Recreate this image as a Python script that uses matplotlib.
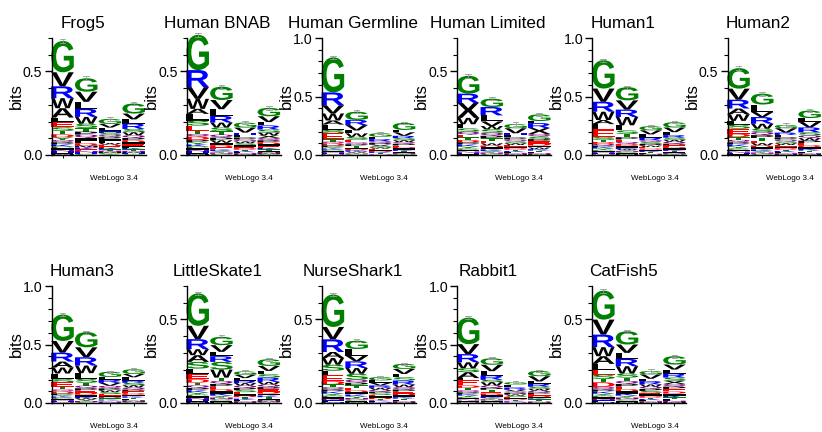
import matplotlib
matplotlib.use("Agg")
import matplotlib.pyplot as plt
from matplotlib.textpath import TextPath
from matplotlib.patches import PathPatch
from matplotlib.font_manager import FontProperties
import matplotlib.transforms as transforms

plt.rcParams['font.family'] = ['Liberation Sans', 'DejaVu Sans']

titles = ["Frog5", "Human BNAB", "Human Germline", "Human Limited", "Human1", "Human2",
          "Human3", "LittleSkate1", "NurseShark1", "Rabbit1", "CatFish5"]
ymax = [0.7, 0.7, 1.0, 0.7, 1.0, 0.7, 1.0, 0.7, 0.7, 1.0, 0.7]

# each column: letters from top of stack downwards, with their heights in bits
frog5 = [
    ("GVRWALESTDYQPKCINHFM", [.187, .084, .071, .060, .056, .028, .030, .022, .020, .018, .016, .014, .013, .012, .011, .010, .009, .008, .007, .006]),
    ("GVLRWSTPQIFDMKENHC", [.080, .061, .042, .048, .041, .025, .022, .018, .020, .016, .015, .014, .012, .011, .010, .009, .008, .007]),
    ("GVLHSQPIFWDEKTNMCY", [.030, .022, .018, .012, .014, .013, .012, .012, .011, .010, .010, .009, .009, .008, .008, .007, .006, .005]),
    ("GVLRSWQPDIEFKTNMHC", [.060, .035, .025, .032, .020, .018, .016, .014, .013, .012, .011, .010, .009, .008, .007, .007, .006, .005]),
]
human_bnab = [
    ("GRVWALSETQDPYKCINHFM", [.211, .102, .070, .060, .030, .040, .030, .030, .020, .016, .020, .014, .013, .012, .011, .010, .009, .008, .007, .006]),
    ("GVLRWSTQPWIDEKYNC", [.080, .055, .040, .040, .030, .022, .020, .018, .016, .015, .014, .013, .012, .010, .009, .008, .007]),
    ("GVHLPQWSIEDTKFNM", [.030, .030, .015, .014, .012, .012, .011, .010, .010, .009, .009, .008, .007, .006, .006, .005]),
    ("GVLRSWXQPDIEKTFNMC", [.050, .035, .020, .025, .018, .017, .015, .014, .013, .012, .011, .010, .009, .008, .007, .007, .006, .005]),
]
human_germline = [
    ("GRVWALSETQDPYKCINHFM", [.300, .110, .070, .060, .035, .045, .030, .050, .020, .015, .018, .014, .012, .011, .010, .009, .008, .007, .006, .005]),
    ("GRVLWSEQPTIDKWYNC", [.070, .045, .045, .025, .030, .025, .022, .016, .015, .014, .012, .011, .010, .009, .008, .007, .006]),
    ("GLRQPVSWEIDKTFN", [.030, .020, .020, .014, .013, .012, .012, .011, .010, .009, .009, .008, .007, .006, .005]),
    ("GLVRSWQPEDIKTFNMC", [.060, .020, .030, .020, .018, .016, .015, .014, .013, .012, .011, .010, .009, .008, .007, .006, .005]),
]
human_limited = [
    ("GRXWLSQETDPKYCINHF", [.107, .056, .089, .038, .025, .020, .018, .016, .015, .014, .013, .012, .011, .010, .009, .008, .007, .006]),
    ("GRLVWSQPTEWDIKYNC", [.050, .050, .036, .028, .020, .020, .018, .016, .015, .014, .013, .012, .011, .010, .009, .008, .007]),
    ("GVHLPQSWEIDTKFNM", [.025, .030, .012, .013, .012, .012, .011, .010, .010, .009, .009, .008, .007, .006, .006, .005]),
    ("GLRXQSPEDIWKTFNM", [.040, .012, .030, .035, .016, .015, .014, .013, .012, .011, .010, .009, .008, .007, .006, .005]),
]
human1 = [
    ("GVRWALESTDQPKYCINHFM", [.242, .113, .085, .071, .035, .045, .065, .025, .018, .016, .014, .013, .012, .011, .010, .009, .008, .007, .006, .005]),
    ("GVRWLSTPEQDIKWYNCFM", [.113, .079, .063, .071, .044, .030, .028, .020, .020, .018, .016, .014, .012, .010, .009, .008, .007, .010, .008]),
    ("GVLRQSPWEDIKTFNM", [.035, .035, .028, .022, .016, .015, .014, .013, .012, .011, .010, .009, .008, .007, .006, .005]),
    ("GVLRSWQPEDIKTFNMC", [.045, .040, .025, .022, .018, .017, .016, .015, .014, .012, .011, .010, .009, .008, .007, .006, .005]),
]
human2 = [
    ("GVRAWLSEDTQPKYCINHF", [.123, .066, .053, .034, .040, .022, .025, .030, .020, .016, .015, .013, .012, .011, .010, .009, .008, .007, .006]),
    ("GLVRWSQPTEWDIKYNC", [.065, .045, .030, .040, .030, .020, .018, .017, .016, .015, .014, .012, .011, .010, .009, .008, .007]),
    ("GVRLPQSWEIDTKFNM", [.020, .026, .014, .014, .013, .012, .011, .010, .010, .009, .009, .008, .007, .006, .006, .005]),
    ("GLVRSQWPEDIKTFNM", [.045, .024, .032, .030, .018, .016, .015, .014, .013, .012, .011, .010, .008, .007, .006, .005]),
]
human3 = [
    ("GVRAWLSETQDPYKCINHFM", [.226, .100, .076, .051, .051, .048, .028, .040, .020, .016, .018, .014, .012, .011, .010, .009, .008, .007, .006, .005]),
    ("GVRWLSTQPEDIKWYNC", [.130, .085, .071, .065, .048, .034, .025, .022, .020, .018, .017, .016, .014, .013, .011, .009, .008]),
    ("GLRVQPWSEIDTKFNM", [.045, .025, .025, .025, .022, .017, .016, .015, .014, .012, .011, .010, .009, .008, .007, .006]),
    ("GVLRSWQPEDIKTFNMC", [.040, .028, .028, .020, .020, .019, .018, .016, .015, .014, .013, .012, .011, .010, .009, .008, .007]),
]
little_skate1 = [
    ("GVRWASLEDTQPKYCINHFM", [.194, .080, .060, .036, .040, .040, .034, .030, .020, .016, .016, .014, .013, .012, .011, .010, .009, .008, .007, .006]),
    ("GVLRSWTQPEDIKYNCFM", [.050, .040, .026, .034, .046, .048, .020, .018, .016, .015, .014, .013, .012, .011, .010, .009, .008, .006]),
    ("GVLRWQPSEIDTKFNM", [.020, .020, .016, .014, .015, .014, .013, .012, .011, .010, .009, .009, .008, .007, .006, .005]),
    ("GVLSRWQPEDIKTFNMC", [.040, .030, .020, .020, .026, .016, .015, .014, .013, .012, .011, .010, .009, .008, .007, .006, .005]),
]
nurse_shark1 = [
    ("GVRAWSLEDTQPKYCINHFM", [.194, .074, .076, .036, .040, .036, .028, .034, .020, .016, .014, .013, .012, .011, .010, .009, .008, .007, .006, .005]),
    ("GLVRWSQPTEDIKYNCFM", [.050, .040, .034, .040, .034, .036, .018, .016, .015, .014, .013, .012, .011, .010, .009, .008, .007, .006]),
    ("GLVRWQPSEIDTKFN", [.020, .014, .016, .014, .012, .011, .010, .010, .009, .008, .008, .007, .006, .005, .005]),
    ("GVLSRWQPEDIKTFNM", [.030, .030, .020, .020, .024, .015, .014, .013, .012, .011, .010, .009, .008, .007, .006, .005]),
]
rabbit1 = [
    ("GVRWSALEDTQPKYCINHFM", [.227, .085, .070, .051, .034, .050, .020, .042, .022, .020, .018, .015, .013, .012, .011, .010, .009, .008, .007, .006]),
    ("GVLRSWQPTEDIKYNCFM", [.055, .055, .037, .037, .020, .030, .018, .017, .016, .015, .014, .013, .012, .011, .010, .009, .007, .006]),
    ("GLRVQPWSEIDTKFN", [.020, .025, .020, .014, .013, .012, .012, .011, .010, .009, .008, .007, .006, .006, .005]),
    ("GVLRSWQPEDIKTFNM", [.045, .045, .020, .025, .018, .016, .015, .014, .013, .012, .011, .010, .009, .008, .007, .006]),
]
catfish5 = [
    ("GVRWALESTDQPKYCINHFM", [.173, .090, .075, .054, .046, .034, .030, .026, .020, .028, .015, .013, .012, .011, .010, .009, .008, .007, .006, .005]),
    ("GVLRWSTQPEDIKYNCFM", [.079, .050, .036, .044, .044, .024, .020, .018, .016, .015, .014, .013, .012, .011, .010, .009, .008, .006]),
    ("GVLRWQPSEIDTKFNM", [.020, .026, .014, .020, .014, .013, .012, .011, .010, .010, .009, .008, .007, .006, .006, .005]),
    ("GVLRSXQPEDIKTFNM", [.050, .030, .024, .024, .020, .018, .016, .015, .014, .013, .012, .011, .010, .009, .008, .006]),
]
stacks = [frog5, human_bnab, human_germline, human_limited, human1, human2,
          human3, little_skate1, nurse_shark1, rabbit1, catfish5]

# small-sample correction shown as grey bars on top of each stack
errors = [
    [.012, .012, .010, .010],
    [.012, .012, .010, .010],
    [.015, .012, .010, .010],
    [.012, .010, .010, .010],
    [.012, .012, .010, .010],
    [.012, .012, .010, .010],
    [.014, .012, .010, .010],
    [.010, .008, .008, .008],
    [.010, .008, .008, .008],
    [.012, .010, .010, .010],
    [.012, .010, .010, .010],
]

colors = {}
for c in "GSTYC":
    colors[c] = "#008000"
for c in "NQ":
    colors[c] = "#800080"
for c in "KRH":
    colors[c] = "#0000ff"
for c in "DE":
    colors[c] = "#ff0000"

letter_font = FontProperties(family="Liberation Sans", weight="bold")
glyphs = {}


def draw_letter(ax, ch, xc, y0, w, h):
    if ch not in glyphs:
        glyphs[ch] = TextPath((0, 0), ch, size=1, prop=letter_font)
    tp = glyphs[ch]
    bb = tp.get_extents()
    tf = transforms.Affine2D() \
        .translate(-bb.x0, -bb.y0) \
        .scale(w / bb.width, h / bb.height) \
        .translate(xc - w / 2, y0)
    patch = PathPatch(tf.transform_path(tp), facecolor=colors.get(ch, "black"),
                      edgecolor="none", clip_on=False)
    ax.add_patch(patch)


W, H = 822, 432
fig = plt.figure(figsize=(W / 100, H / 100), dpi=100)

for i in range(len(titles)):
    row, col = divmod(i, 6)
    left = 51.5 + 135.2 * col
    base = 155 if row == 0 else 403   # pixel row of the x axis, from top
    ax = fig.add_axes([left / W, (H - base) / H, 94 / W, 117 / H])
    top = ymax[i]
    ax.set_xlim(0.535, 4.5)
    ax.set_ylim(0, top)

    for j, (letters, heights) in enumerate(stacks[i]):
        x = j + 1
        y = sum(heights)
        total = y
        for ch, h in zip(letters, heights):
            y -= h
            draw_letter(ax, ch, x, y, 0.95, h)
        e = errors[i][j]
        ax.plot([x, x], [total - e, total + e], color="#9a9a9a", lw=0.6, clip_on=False)
        ax.plot([x - 0.12, x + 0.12], [total + e, total + e], color="#9a9a9a", lw=0.6, clip_on=False)
        ax.plot([x - 0.12, x + 0.12], [total - e, total - e], color="#9a9a9a", lw=0.6, clip_on=False)

    for s in ["top", "right"]:
        ax.spines[s].set_visible(False)
    ax.spines["left"].set_bounds(0, top)
    ax.spines["left"].set_linewidth(1.0)
    ax.spines["bottom"].set_linewidth(1.0)

    major = [0, 0.5] if top < 1 else [0, 0.5, 1.0]
    ax.set_yticks(major)
    ax.set_yticklabels(["%.1f" % v for v in major], fontsize=10.2)
    ax.set_yticks([k / 10 for k in range(int(round(top * 10)) + 1)], minor=True)
    ax.tick_params(axis="y", which="major", length=5, width=1.0, pad=1.5)
    ax.tick_params(axis="y", which="minor", length=3, width=0.8)
    ax.set_xticks([1, 2, 3, 4])
    ax.set_xticklabels([])
    ax.tick_params(axis="x", length=2.5, width=0.7)

    fig.text((left + 31) / W, (H - (base - 127)) / H, titles[i], fontsize=12.3,
             ha="center", va="baseline")
    fig.text((left - 35.5) / W, (H - (base - 58.5)) / H, "bits", fontsize=12,
             rotation=90, ha="center", va="center")
    fig.text((left + 86) / W, (H - (base + 23)) / H, "WebLogo 3.4", fontsize=5.8,
             ha="right", va="center")

fig.savefig("out.png", dpi=100)
